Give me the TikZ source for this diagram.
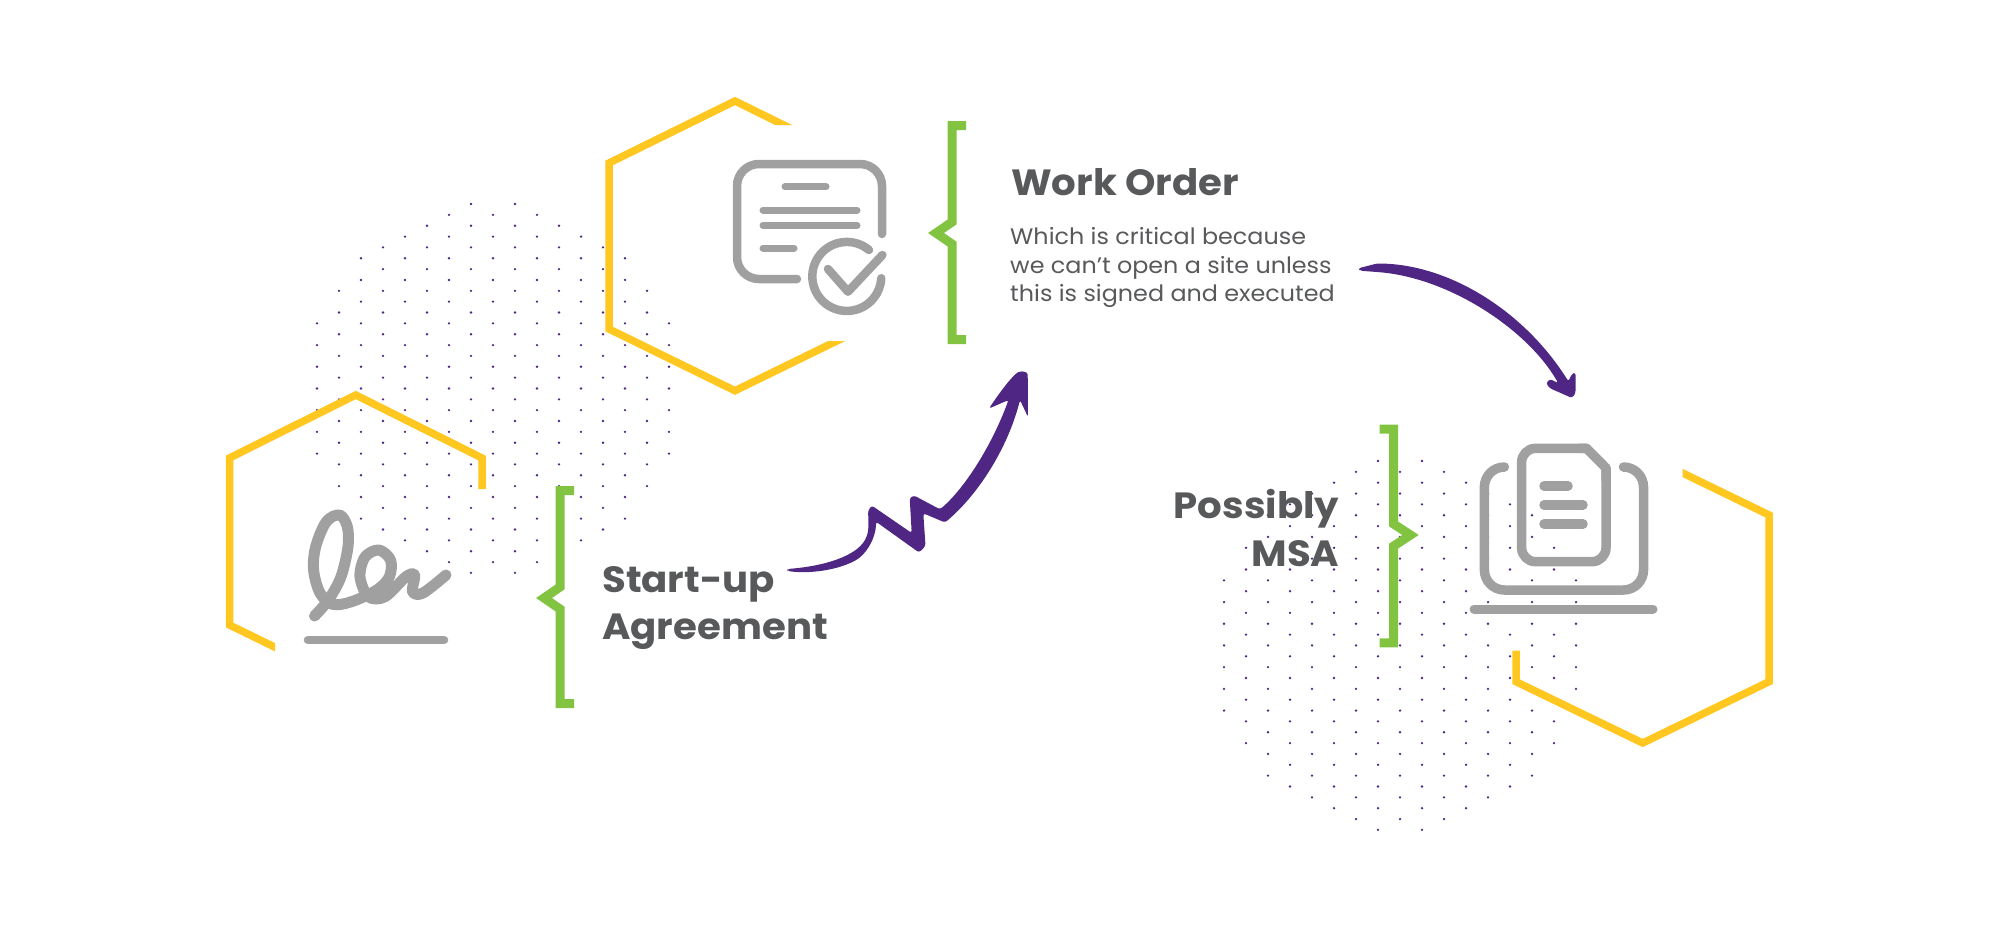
\documentclass[tikz,border=0pt]{standalone}
\usepackage{fontspec}
\setmainfont[FakeStretch=1.06]{Poppins}
\usepackage{xcolor}
\definecolor{hexyellow}{HTML}{FFC720}
\definecolor{bracegreen}{HTML}{82C341}
\definecolor{icongray}{HTML}{A0A0A0}
\definecolor{inkpurple}{HTML}{4F2683}
\definecolor{textgray}{HTML}{58595B}
\tikzstyle{hex line}=[
        draw = hexyellow,
        line width = 7.5pt
    ]
\tikzstyle{brace line}=[
        draw = bracegreen,
        line width = 9pt
    ]
\tikzstyle{icon line}=[
        draw = icongray,
        line width = 8.5pt,
        line cap = round,
        line join = round
    ]
\tikzstyle{big label}=[
        inner sep = 0pt,
        text = textgray,
        font = \fontsize{36.5}{36.5}\selectfont\bfseries
    ]
\tikzstyle{small label}=[
        inner sep = 0pt,
        text = textgray,
        font = \fontsize{22.5}{22.5}\selectfont
    ]
\tikzstyle{hand arrow}=[
        fill = inkpurple,
        rounded corners = 2.5pt
    ]
\newcommand{\dotdisc}[4]{%
    \foreach \row in {0,...,34}{
        \foreach \col in {0,...,9}{
            \pgfmathsetmacro{\dotx}{#1+44*\col+22*mod(\row,2)}
            \pgfmathsetmacro{\doty}{#2+10.85*\row}
            \pgfmathtruncatemacro{\inside}{veclen((\dotx-#3)/1.03,\doty-#4)<186.5}
            \ifnum\inside=1 \fill[inkpurple] (\dotx,\doty) circle (1.3);\fi
        }
    }
}

\begin{document}
\begin{tikzpicture}[x=1pt, y=-1pt]
    \useasboundingbox (0,0) rectangle (2000,930);

    \dotdisc{295}{204}{491}{388}
    \dotdisc{1202}{461}{1402}{645.5}

    \begin{scope}
        \clip (590,80) -- (830,80) -- (830,125) -- (760,125) -- (760,341) -- (860,341) -- (860,400) -- (590,400) -- cycle;
        \draw[hex line] (810,138) -- (735,101) -- (609,163) -- (609,329) -- (735,390.7) -- (860,329.6);
    \end{scope}
    \begin{scope}
        \clip (200,380) -- (500,380) -- (500,600) -- (275,600) -- (275,670) -- (200,670) -- cycle;
        \draw[hex line] (482,489) -- (482,458) -- (355.7,395) -- (229.5,458) -- (229.5,625) -- (295,657);
    \end{scope}
    \begin{scope}
        \clip (1682.7,450) -- (1790,450) -- (1790,760) -- (1500,760) -- (1500,600) -- (1682.7,600) -- cycle;
        \draw[hex line] (1660,462) -- (1769,515) -- (1769,681.7) -- (1642.7,743) -- (1516,681.7) -- (1516,650.7);
    \end{scope}

    \draw[brace line] (966,125.5) -- (952,125.5) -- (952,222) -- (936,233) -- (952,244) -- (952,339.5) -- (966,339.5);
    \draw[brace line] (574,490.5) -- (560,490.5) -- (560,587) -- (544,598) -- (560,609) -- (560,703.5) -- (574,703.5);
    \draw[brace line] (1379.5,429) -- (1393.7,429) -- (1393.7,524) -- (1410.5,535) -- (1393.7,546) -- (1393.7,642.8) -- (1379.5,642.8);

    % signature
    \draw[icon line, line width=11pt] plot[smooth, tension=.55] coordinates {(314.5,616) (328.4,600) (341,576.7) (348,546.7) (347.3,526.7) (339.7,515) (326.3,521.7) (315.7,546.7) (313.6,570) (320,593) (332.6,604.3) (351.5,601.7) (376.8,590) (389.4,576.7) (390.5,560) (378.9,550) (365,557) (360,576.7) (368.4,596.7) (385,596.7) (406,576.7) (414.6,575) (412.6,591.7) (423,593) (446,575)};
    \draw[icon line, line width=8.6pt] (308,640) -- (444,640);

    % order sheet
    \draw[icon line, rounded corners=22pt] (882,234) -- (882,164) -- (737,164) -- (737,279) -- (797,279);
    \draw[icon line, line width=7pt] (785,186.7) -- (826,186.7);
    \draw[icon line, line width=7pt] (763,210) -- (857,210);
    \draw[icon line, line width=7pt] (763,225.3) -- (857,225.3);
    \draw[icon line, line width=7pt] (763,248) -- (794,248);
    \draw[icon line] (869,250) arc[start angle=-50, end angle=-357, radius=34.5];
    \draw[icon line] (828,269) -- (848,291.7) -- (882.4,255);

    % laptop and page
    \draw[icon line, line width=9.5pt, rounded corners=20pt] (1503,467) -- (1484.4,467) -- (1484.4,590) -- (1643.5,590) -- (1643.5,467) -- (1625,467);
    \draw[icon line, line width=9pt] (1474,609) -- (1653,609);
    \draw[icon line, line width=9.5pt, rounded corners=14pt] (1586.5,448.3) -- (1521.6,448.3) -- (1521.6,561.7) -- (1606,561.7) -- (1606,468);
    \draw[icon line, line width=9.5pt] (1580,448.3) -- (1586.5,448.3) -- (1606,468) -- (1606,480);
    \draw[icon line, line width=9.5pt] (1544,486) -- (1568,486);
    \draw[icon line, line width=9.5pt] (1544,505) -- (1583,505);
    \draw[icon line, line width=9.5pt] (1544,524) -- (1583,524);

    % hand drawn arrows
    \coordinate (zigTail) at (787.3,569);
    \coordinate (zigTip) at (1020,371);
    \coordinate (bowTail) at (1358.3,268.3);
    \coordinate (bowTip) at (1572,398);
    \fill[hand arrow] (zigTail) .. controls (825,566) and (856,556) .. (866,538) .. controls (869,530) and (868.5,520) .. (868,511) -- (871.7,505.5) -- (911.7,533) -- (909.7,498) -- (914,495.5) -- (940,509.3) .. controls (965,488) and (992,445) .. (1008.5,400) -- (989,408.5) .. controls (1000,392) and (1012,376) .. (zigTip) -- (1027.7,372.5) -- (1028,417) -- (1020,400) .. controls (1008,447) and (979,494) .. (945,522.5) -- (923.3,513.3) -- (925.5,546) -- (919,552.5) -- (876,521.7) .. controls (876,538) and (866,555) .. (853,561.7) .. controls (835,570) and (810,574) .. (787.3,571) -- cycle;
    \fill[hand arrow] (bowTail) -- (1377,263.5) .. controls (1450,264) and (1525,312) .. (1568.5,381.5) -- (1571.7,374) -- (1575.5,372.5) -- (1575.5,393.3) -- (bowTip) -- (1550,388.3) -- (1546,383.3) -- (1550,379) -- (1558.3,383.3) .. controls (1528,330) and (1450,278) .. (1377,272) -- (1360,270.7) -- cycle;

    \node[big label, anchor=base west] (order) at (1011,195) {Work Order};
    \node[small label, anchor=base west] (why1) at (1010,244.5) {Which is critical because};
    \node[small label, anchor=base west] (why2) at (1010,273) {we can’t open a site unless};
    \node[small label, anchor=base west] (why3) at (1010,301.5) {this is signed and executed};
    \node[big label, anchor=base west] (start) at (602,592.7) {Start-up};
    \node[big label, anchor=base west] (agreement) at (602,639.3) {Agreement};
    \node[big label, anchor=base east] (possibly) at (1339.5,518) {Possibly};
    \node[big label, anchor=base east] (msa) at (1339.5,566) {MSA};
\end{tikzpicture}
\end{document}
